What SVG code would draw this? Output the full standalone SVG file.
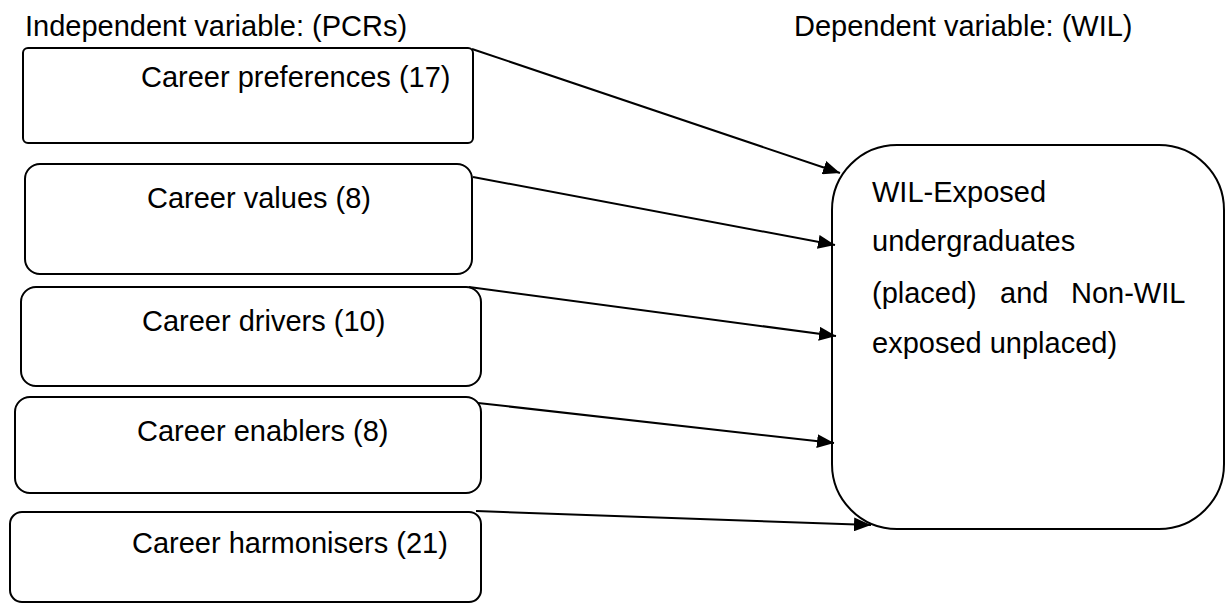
<svg xmlns="http://www.w3.org/2000/svg" width="1230" height="604" viewBox="0 0 1230 604">
<style>
.box{fill:#fff;stroke:#000;stroke-width:2}
.t{font-family:"Liberation Sans",Arial,sans-serif;font-size:29px;fill:#000}
.c{stroke:#000;stroke-width:2;fill:none;marker-end:url(#ah)}
</style>
<defs>
<marker id="ah" markerUnits="userSpaceOnUse" markerWidth="18" markerHeight="14" viewBox="0 0 18 14" refX="17" refY="7" orient="auto">
<path d="M0,0 L17,7 L0,14 Z" fill="#000"/>
</marker>
</defs>
<rect width="1230" height="604" fill="#fff"/>
<text class="t" x="25" y="36">Independent variable: (PCRs)</text>
<text class="t" x="794" y="36">Dependent variable: (WIL)</text>
<g id="n1"><rect class="box" x="23" y="48" width="450" height="95" rx="5"/><text class="t" x="141" y="87">Career preferences (17)</text></g>
<g id="n2"><rect class="box" x="25" y="164" width="447" height="110" rx="15"/><text class="t" x="147" y="208">Career values (8)</text></g>
<g id="n3"><rect class="box" x="21" y="287" width="460" height="99" rx="15"/><text class="t" x="142" y="331">Career drivers (10)</text></g>
<g id="n4"><rect class="box" x="15" y="397" width="466" height="96" rx="15"/><text class="t" x="137" y="441">Career enablers (8)</text></g>
<g id="n5"><rect class="box" x="10" y="512" width="471" height="90" rx="12"/><text class="t" x="132" y="553">Career harmonisers (21)</text></g>
<g id="n6"><rect class="box" x="832" y="145" width="392" height="384" rx="65"/>
<text class="t" x="872" y="202">WIL-Exposed</text>
<text class="t" x="872" y="251">undergraduates</text>
<text class="t" y="303"><tspan x="872">(placed)</tspan><tspan x="1000">and</tspan><tspan x="1071">Non-WIL</tspan></text>
<text class="t" x="872" y="353">exposed unplaced)</text>
</g>
<g id="connectors">
<line class="c" x1="472" y1="49" x2="840" y2="173"/>
<line class="c" x1="473" y1="177" x2="835" y2="245"/>
<line class="c" x1="469" y1="287" x2="836" y2="336"/>
<line class="c" x1="478" y1="403" x2="834" y2="443"/>
<line class="c" x1="476" y1="511" x2="871" y2="525"/>
</g>
</svg>
